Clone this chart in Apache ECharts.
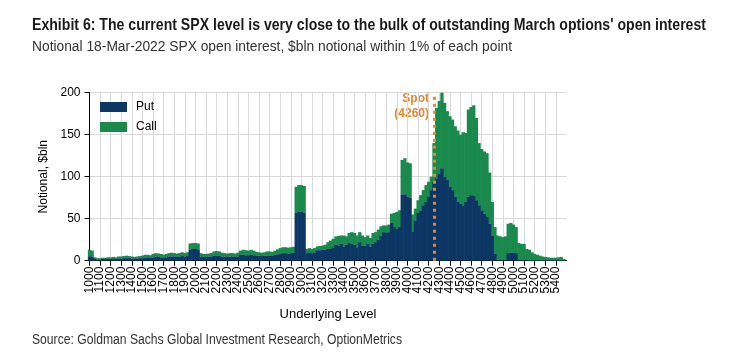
<!DOCTYPE html>
<html>
<head>
<meta charset="utf-8">
<script src="https://cdn.jsdelivr.net/npm/echarts@6/dist/echarts.min.js"></script>
<style>
html,body{margin:0;padding:0;background:#fff;}
#chart{width:732px;height:358px;}
</style>
</head>
<body>
<div id="chart"></div>
<script>
// Strike levels (every 25 points)
const categories = [];
for (let k = 1000; k <= 5500; k += 25) categories.push(String(k));

// Tick labels shown on the x axis
const xTickLabels = ['1000','1100','1200','1300','1400','1500','1600','1700','1800','1900','2000','2100','2200','2300','2400','2500','2600','2700','2800','2900','3000','3100','3200','3300','3400','3500','3600','3700','3800','3900','4000','4100','4200','4300','4400','4500','4600','4700','4800','4900','5000','5100','5200','5300','5400'];

const yTicks = [0, 50, 100, 150, 200];

// Put notional, $bln
const putValues = [
  5, 5, 2, 1.5,
  1.5, 2, 2, 2,
  2, 2, 2, 2.5,
  2.5, 3, 3, 3,
  2.5, 2, 2.5, 3,
  3, 3.5, 4, 3.5,
  4, 5, 4.5, 4,
  3.5, 4, 5, 5,
  5, 4.5, 5, 5.5,
  5, 5.5, 13, 14,
  14, 13.5, 5, 4.5,
  4.5, 5, 5, 6,
  6, 6, 5, 5,
  4.5, 5, 5, 4.5,
  5, 7, 7, 6.5,
  6.5, 7, 6.5, 6,
  6, 5.5, 6, 6,
  6, 6, 7, 7.5,
  8, 9, 9, 8.5,
  9, 9.5, 57, 58,
  58, 57, 9, 10,
  9, 10, 12.5, 12.5,
  13, 13, 14, 14,
  16, 19, 18, 20,
  17, 19, 21, 20,
  19, 16, 22, 18,
  18, 20, 17, 20,
  22, 25, 30, 34,
  33, 34, 45, 40,
  38, 40, 79, 79,
  76, 75, 35, 48,
  57, 60, 66, 70,
  76, 84, 94, 98,
  104, 110, 100, 96,
  88, 84, 76, 70,
  68, 66, 70, 76,
  78, 77, 72, 66,
  60, 56, 52, 44,
  30, 8, 1, 0.5,
  0.5, 0.5, 9, 9.5,
  9.5, 9, 0.5, 0.5,
  0.5, 0.5, 0.3, 0.3,
  0.3, 0.3, 0.2, 0.2,
  0.2, 0.2, 0.2, 0.2,
  0.2, 0.2, 0.2, 0.1,
  0
];

// Call notional, $bln
const callValues = [
  8, 7, 2, 1.5,
  1.5, 1.5, 1.5, 2,
  2, 2.5, 2, 2.5,
  2.5, 2.5, 3, 2.5,
  2.5, 2.5, 2.5, 2.5,
  3, 3.5, 3, 3,
  4, 4, 4, 4,
  3.5, 4, 4, 4.5,
  4, 4, 4, 4.5,
  4, 4.5, 7.5, 7,
  7, 7, 4, 3.5,
  3.5, 3.5, 4, 5,
  5.5, 5, 4.5, 4,
  4, 4, 4, 4,
  4.5, 5, 6, 6,
  5.5, 6, 5.5, 4.5,
  4, 4, 4, 5,
  5, 4.5, 5, 6,
  7, 7, 7, 7,
  7, 7, 31, 32,
  32, 32, 5, 5,
  5, 5, 4.5, 5,
  5, 6, 8, 10,
  10, 10, 11.5, 10,
  13, 10, 12, 14,
  14, 14, 12, 12,
  10, 10, 10, 13,
  12, 12, 11, 8,
  9, 9, 11, 17,
  20, 20, 41, 43,
  41, 41, 20, 14,
  15, 18, 18, 20,
  18, 16, 46, 84,
  86, 90, 88, 82,
  84, 84, 84, 85,
  82, 87, 82, 104,
  105, 108, 98, 74,
  73, 74, 76, 61,
  40, 32, 29, 28.5,
  27.5, 28.5, 35, 35.5,
  33.5, 31, 20.5, 19.5,
  19.5, 13.5, 12.7, 9.7,
  7.7, 6.7, 5.8, 4.8,
  4.3, 3.8, 3.3, 3.3,
  3.3, 3.8, 4.3, 1.9,
  0
];

const spotLevel = 4260;
const spotIndex = (spotLevel - 1000) / 25;

const titleText = "Exhibit 6: The current SPX level is very close to the bulk of outstanding March options' open interest";
const subtitleText = 'Notional 18-Mar-2022 SPX open interest, $bln notional within 1% of each point';
const sourceText = 'Source: Goldman Sachs Global Investment Research, OptionMetrics';

const PUT = '#0c3764';
const CALL = '#198a4c';
const ORANGE = '#ea8431';
const GRID = '#d9d9d9';
const FONT = '"Liberation Sans", Arial, sans-serif';

// condensed look: horizontally scale real text to the reference widths
const ctx = document.createElement('canvas').getContext('2d');
function fitScale(text, font, width) {
  ctx.font = font;
  return width / ctx.measureText(text).width;
}
const titleFont = 'bold 17px ' + FONT;
const subFont = '14px ' + FONT;
const srcFont = '14px ' + FONT;

const isTick = (i, v) => xTickLabels.indexOf(v) >= 0;

const chart = echarts.init(document.getElementById('chart'), null, {renderer: 'canvas'});
chart.setOption({
  animation: false,
  backgroundColor: '#fff',
  legend: {
    orient: 'vertical',
    left: 95, top: 96,
    itemWidth: 27, itemHeight: 10, itemGap: 8,
    icon: 'rect',
    textStyle: {fontFamily: FONT, fontSize: 12, color: '#000', padding: [0, 0, 0, 4]},
    data: ['Put', 'Call']
  },
  grid: {left: 89.5, right: 165.5, top: 92.7, bottom: 97.3, containLabel: false},
  xAxis: {
    type: 'category',
    data: categories,
    boundaryGap: false,
    name: 'Underlying Level',
    nameLocation: 'middle',
    nameGap: 47,
    nameTextStyle: {fontFamily: FONT, fontSize: 13, color: '#000'},
    axisLine: {show: true, lineStyle: {color: '#000', width: 1}},
    axisTick: {show: true, interval: isTick, length: 5, lineStyle: {color: '#000'}},
    axisLabel: {interval: 0, rotate: 90, fontFamily: FONT, fontSize: 12, color: '#000', margin: 6,
      hideOverlap: false,
      formatter: (v) => (xTickLabels.indexOf(v) >= 0 ? v : '')},
    splitLine: {show: true, interval: isTick, lineStyle: {color: GRID, width: 1}}
  },
  yAxis: {
    type: 'value',
    min: yTicks[0], max: yTicks[yTicks.length - 1], interval: 50,
    name: 'Notional, $bln',
    nameLocation: 'middle',
    nameGap: 39,
    nameTextStyle: {fontFamily: FONT, fontSize: 12, color: '#000'},
    axisLine: {show: true, lineStyle: {color: '#000', width: 1}},
    axisTick: {show: true, length: 5, lineStyle: {color: '#000'}},
    axisLabel: {fontFamily: FONT, fontSize: 12, color: '#000', margin: 9},
    splitLine: {show: true, lineStyle: {color: GRID, width: 1}}
  },
  series: [
    {
      name: 'Put', type: 'bar', stack: 'oi',
      data: putValues,
      barWidth: 3.3,
      itemStyle: {color: PUT},
      markLine: {
        silent: true, symbol: 'none',
        label: {show: false},
        lineStyle: {color: ORANGE, width: 3, type: [3, 4], cap: 'butt'},
        data: [{xAxis: spotIndex}],
        z: 10
      },
      z: 3
    },
    {
      name: 'Call', type: 'bar', stack: 'oi',
      data: callValues,
      barWidth: 3.3,
      itemStyle: {color: CALL},
      z: 2
    }
  ],
  graphic: [
    {type: 'text', x: 32, y: 17, scaleX: fitScale(titleText, titleFont, 674),
      style: {text: titleText, font: titleFont, fill: '#1a1a1a', verticalAlign: 'top'}},
    {type: 'text', x: 32, y: 40, scaleX: fitScale(subtitleText, subFont, 480),
      style: {text: subtitleText, font: subFont, fill: '#333', verticalAlign: 'top'}},
    {type: 'text', x: 32, y: 333, scaleX: fitScale(sourceText, srcFont, 370),
      style: {text: sourceText, font: srcFont, fill: '#333', verticalAlign: 'top'}},
    {type: 'text', x: 429, y: 93, style: {text: 'Spot', align: 'right', verticalAlign: 'top', fill: ORANGE, font: 'bold 12px ' + FONT}},
    {type: 'text', x: 429, y: 108, style: {text: '(' + spotLevel + ')', align: 'right', verticalAlign: 'top', fill: ORANGE, font: 'bold 12px ' + FONT}}
  ]
});
</script>
</body>
</html>
